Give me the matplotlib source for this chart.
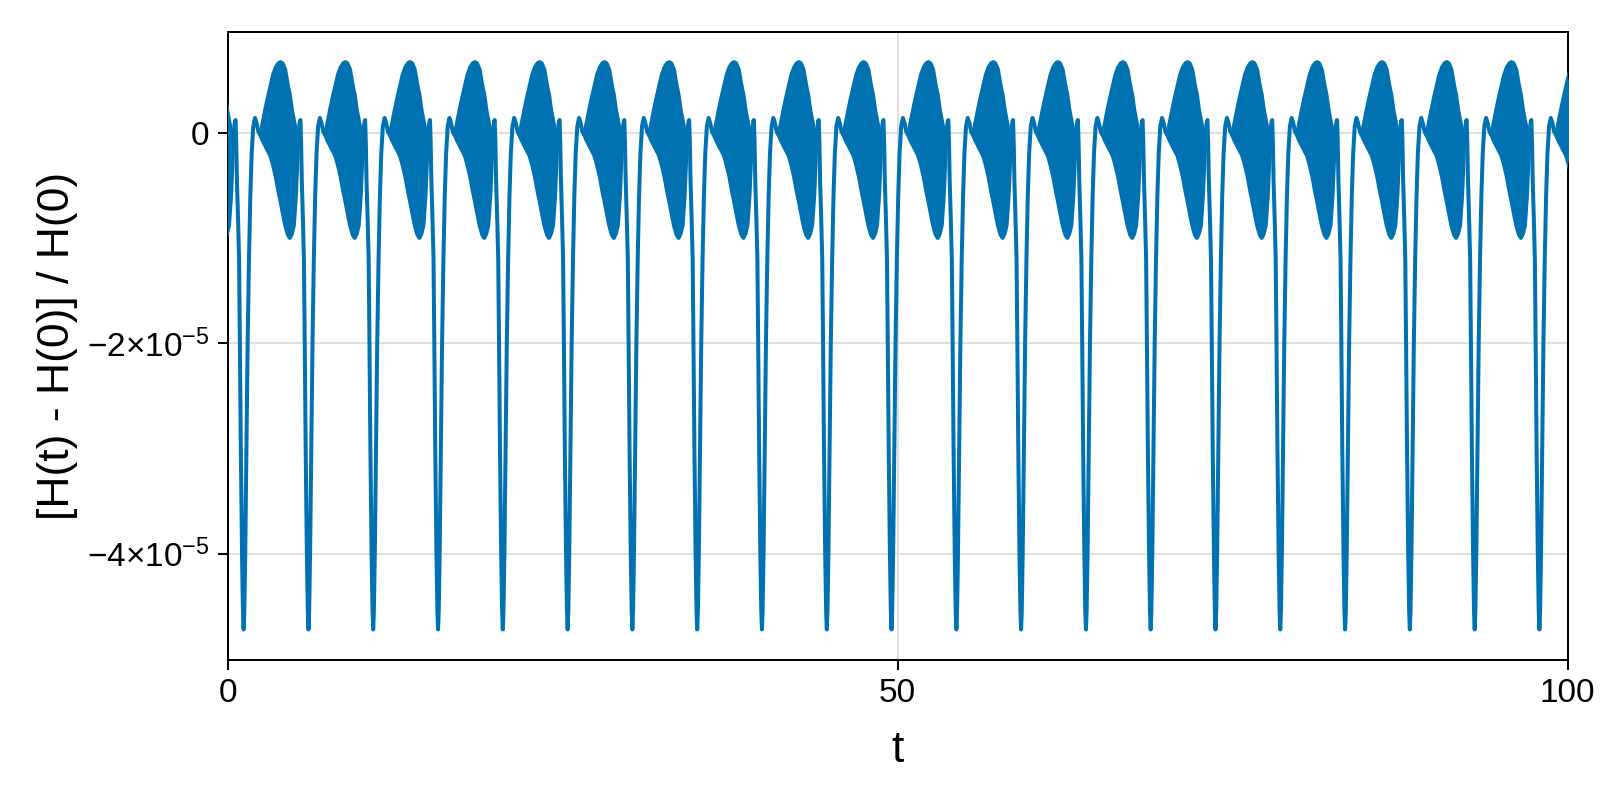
import numpy as np
import matplotlib.pyplot as plt

plt.rcParams['font.family'] = ['Liberation Sans', 'DejaVu Sans']
plt.rcParams['mathtext.fontset'] = 'custom'
plt.rcParams['mathtext.rm'] = 'Liberation Sans'
plt.rcParams['mathtext.it'] = 'Liberation Sans:italic'

# times of the deep minima (first one lies just before t = 0)
dip_times = [-3.65, 1.19, 6.03, 10.86, 15.70, 20.53, 25.37, 30.20, 35.04, 39.87,
             44.71, 49.54, 54.38, 59.21, 64.05, 68.88, 73.72, 78.55, 83.39,
             88.22, 93.06, 97.89]

# shape of one cycle around a minimum, values in units of 1e-5
thin_phase = [-0.76, -0.70, -0.64, -0.60, -0.55, -0.50, -0.42, -0.34, -0.28,
              -0.21, -0.12, -0.05, 0.0, 0.05, 0.12, 0.21, 0.30, 0.40, 0.50,
              0.60, 0.72, 0.85, 0.97, 1.10, 1.24]
thin_value = [-0.06, 0.05, 0.11, 0.12, -0.10, -0.45, -0.80, -1.20, -2.00,
              -3.00, -4.00, -4.55, -4.72, -4.55, -4.00, -3.00, -2.00, -1.20,
              -0.60, -0.20, 0.06, 0.14, 0.09, 0.01, -0.02]

# fast-oscillating part: upper and lower envelopes
band_phase = [1.24, 1.40, 1.60, 1.80, 2.00, 2.20, 2.40, 2.60, 2.75, 2.90,
              3.10, 3.30, 3.45, 3.60, 3.75, 3.90, 4.00, 4.07]
band_upper = [-0.02, 0.08, 0.21, 0.33, 0.44, 0.55, 0.62, 0.66, 0.67, 0.66,
              0.60, 0.45, 0.36, 0.22, 0.12, 0.02, -0.04, -0.06]
band_lower = [-0.02, -0.07, -0.12, -0.17, -0.22, -0.31, -0.42, -0.56, -0.65,
              -0.75, -0.88, -0.97, -1.00, -0.96, -0.88, -0.60, -0.30, -0.06]

ytick_vals = [-4e-5, -2e-5, 0]
ytick_labels = [r'$-4{\times}10^{-5}$', r'$-2{\times}10^{-5}$', '0']
xtick_vals = [0, 50, 100]

COLOR = '#0072B2'
LW = 2.88
scale = 1e-5

fig = plt.figure(figsize=(16, 8), dpi=100)
ax = fig.add_axes([0.1423, 0.175, 0.8375, 0.7855])

tp = np.array(thin_phase)
tv = np.array(thin_value) * scale
bp = np.array(band_phase)
bu = np.array(band_upper) * scale
bl = np.array(band_lower) * scale

for td in dip_times:
    ax.plot(td + tp, tv, color=COLOR, lw=LW, solid_joinstyle='round',
            solid_capstyle='round', zorder=3)
    ax.fill_between(td + bp, bl, bu, color=COLOR, lw=0, zorder=3)
    ax.plot(td + bp, bu, color=COLOR, lw=LW, solid_joinstyle='round',
            solid_capstyle='round', zorder=3)
    ax.plot(td + bp, bl, color=COLOR, lw=LW, solid_joinstyle='round',
            solid_capstyle='round', zorder=3)

ax.set_xlim(0, 100)
ax.set_ylim(-5.01e-5, 0.96e-5)
ax.set_xticks(xtick_vals)
ax.set_xticklabels([str(v) for v in xtick_vals])
ax.set_yticks(ytick_vals)
ax.set_yticklabels(ytick_labels)

for s in ax.spines.values():
    s.set_linewidth(1.44)
ax.tick_params(direction='out', length=7.2, width=1.44, labelsize=24, pad=6)
ax.set_axisbelow(True)
ax.grid(True, color='#e0e0e0', linewidth=1.44, zorder=0)

ax.set_xlabel('t', fontsize=32, labelpad=15)
ax.set_ylabel('[H(t) - H(0)] / H(0)', fontsize=32, labelpad=6)

fig.savefig('out.png', dpi=100)
